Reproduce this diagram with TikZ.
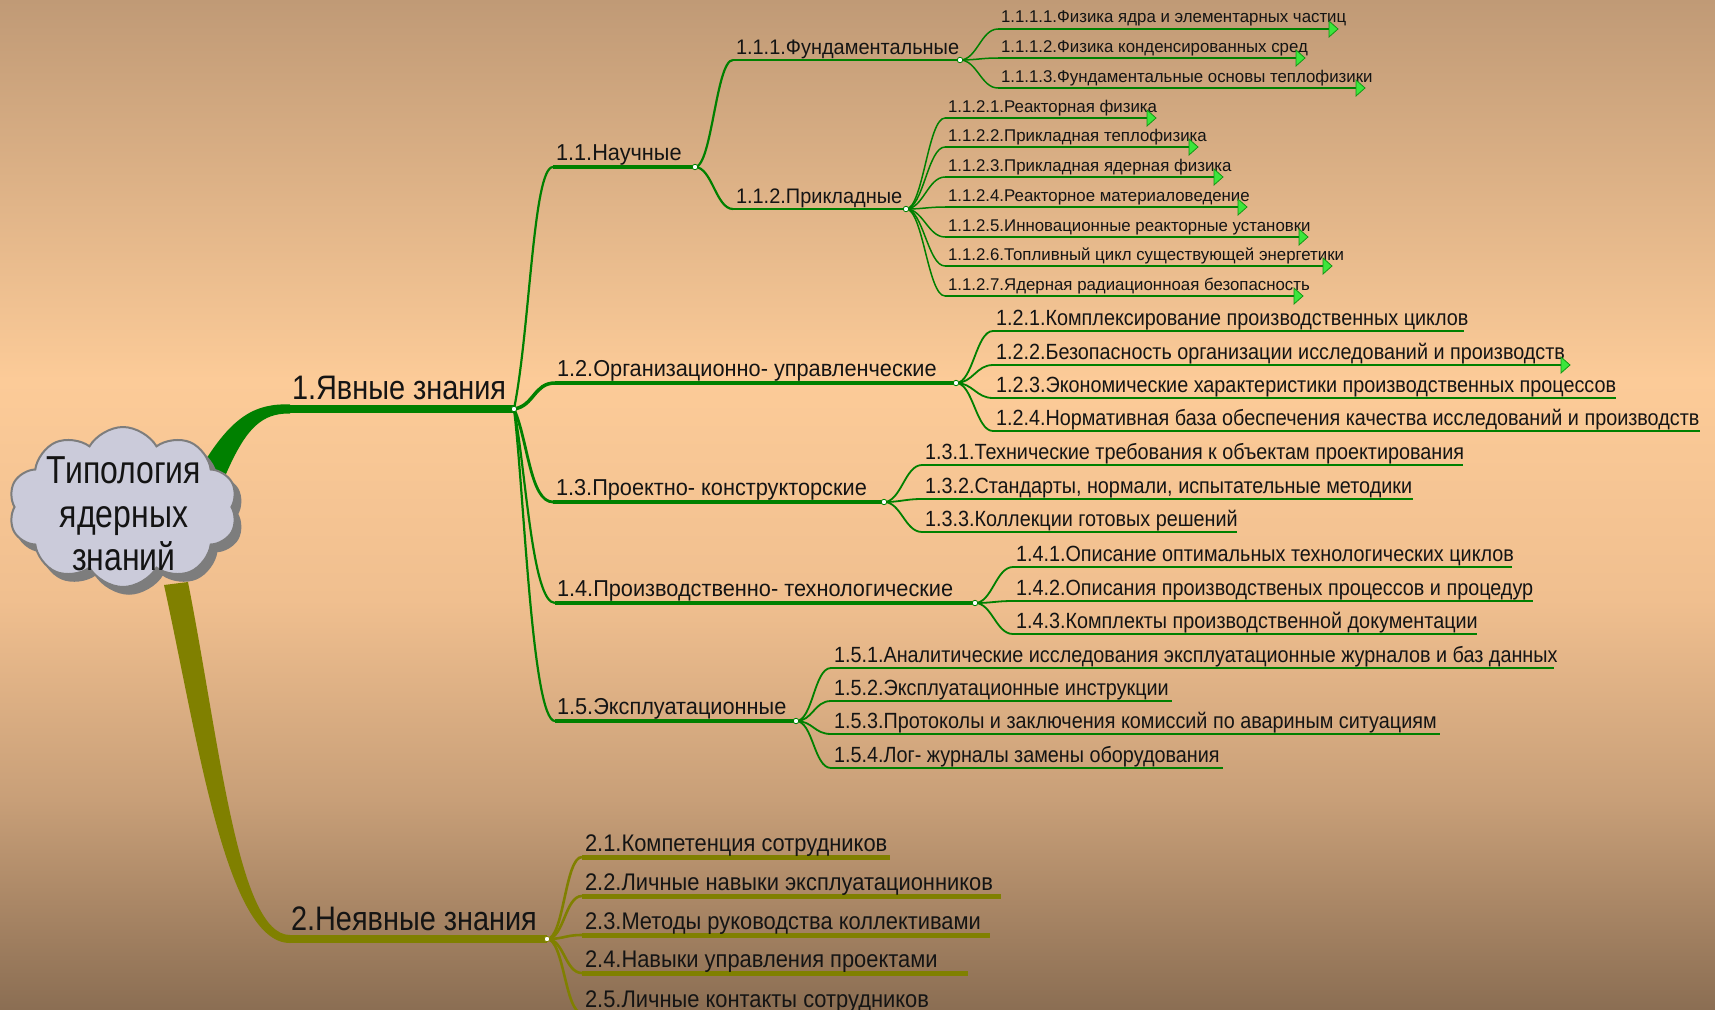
\documentclass[tikz,border=0pt]{standalone}
\usepackage{fontspec}
\setmainfont{Liberation Sans}
\newfontfamily\FamCloud[FakeStretch=0.82]{Liberation Sans}
\newfontfamily\FamA[FakeStretch=0.85]{Liberation Sans}
\newfontfamily\FamB[FakeStretch=0.945]{Liberation Sans}
\newfontfamily\FamBB[FakeStretch=0.95]{Liberation Sans}
\newfontfamily\FamC[FakeStretch=0.90]{Liberation Sans}
\newfontfamily\FamE[FakeStretch=0.912]{Liberation Sans}
\newfontfamily\FamD[FakeStretch=0.99]{Liberation Sans}
\usetikzlibrary{shapes.symbols,calc}
\newcommand\FCloud{\FamCloud\fontsize{39}{43.5}\selectfont}
\newcommand\FOne{\FamA\fontsize{34}{40}\selectfont}
\newcommand\FTwo{\FamB\fontsize{23}{27}\selectfont}
\newcommand\FThrA{\FamBB\fontsize{21}{25}\selectfont}
\newcommand\FThree{\FamC\fontsize{22}{26}\selectfont}
\newcommand\FTw{\FamE\fontsize{24}{28}\selectfont}
\newcommand\FFour{\FamD\fontsize{17}{20}\selectfont}
\definecolor{gr}{RGB}{0,128,0}
\definecolor{ol}{RGB}{128,128,0}
\definecolor{tipg}{RGB}{60,230,60}
\definecolor{tipd}{RGB}{20,150,20}
\definecolor{cloudfill}{RGB}{203,203,218}
\definecolor{cloudline}{RGB}{125,125,125}
\definecolor{bgA}{RGB}{192,154,118}
\definecolor{bgB}{RGB}{252,203,152}
\definecolor{bgC}{RGB}{240,191,143}
\definecolor{bgD}{RGB}{200,159,120}
\definecolor{bgE}{RGB}{139,110,83}
% parent, name, xstart, y, xend, line style, curve style, font, text
\newcommand\kid[9]{%
  \coordinate (#2s) at (#3,#4);
  \coordinate (#2e) at (#5,#4);
  \draw[#7] (#1) .. controls ($(#1)+(17,0)$) and ($(#2s)+(-17,0)$) .. (#2s);
  \draw[#6] (#2s) -- (#2e);
  \node[lbl, font=#8] (#2) at ($(#2s)+(3,-6)$) {#9};
}
\newcommand\tip[1]{\filldraw[tipst] ($(#1)+(-9,-8)$) -- (#1) -- ($(#1)+(-9,8)$) -- cycle;}
\begin{document}
\begin{tikzpicture}[x=1pt,y=-1pt,
  lbl/.style={anchor=base west, inner sep=0pt, outer sep=0pt, text=black!92},
  lone/.style={gr, line width=8},
  ltwo/.style={gr, line width=4.5},
  ctwo/.style={gr, line width=2.2},
  lthr/.style={gr, line width=2.8},
  cthr/.style={gr, line width=1.8},
  lfour/.style={gr, line width=2.3},
  cfour/.style={gr, line width=1.5},
  otwo/.style={ol, line width=5},
  octwo/.style={ol, line width=2.6},
  tipst/.style={fill=tipg, draw=tipd, line width=0.8, line join=miter},
  dotst/.style={circle, fill=white, draw=gr, line width=0.8, inner sep=0pt, minimum size=6pt},
]
\useasboundingbox (0,0) rectangle (1715,1009);
% background
\shade[top color=bgA, bottom color=bgB] (0,0) rectangle (1715,380);
\shade[top color=bgB, bottom color=bgC] (0,379.5) rectangle (1715,600);
\shade[top color=bgC, bottom color=bgD] (0,599.5) rectangle (1715,800);
\shade[top color=bgD, bottom color=bgE] (0,799.5) rectangle (1715,1009);

% junctions
\coordinate (j1) at (514,409);
\coordinate (j2) at (547,939);
\coordinate (j11) at (695,167);
\coordinate (j12) at (956,383);
\coordinate (j13) at (884,502);
\coordinate (j14) at (975,603);
\coordinate (j15) at (796,721);
\coordinate (j111) at (960,60);
\coordinate (j112) at (906,209);

% main thick connectors from cloud
\fill[gr] (203,464) .. controls (232,417) and (255,403) .. (290,404.5)
  -- (290,413.5) .. controls (262,413) and (246,428) .. (226,474) -- cycle;
\fill[ol] (164,585) .. controls (198,740) and (226,943) .. (290,943)
  -- (290,935) .. controls (238,935) and (220,745) .. (188,582) -- cycle;

% level 1 lines and labels
\coordinate (n1s) at (290,409);
\draw[lone] (n1s) -- (j1);
\node[lbl, font=\FOne] (n1) at (292,399) {1.Явные знания};
\coordinate (n2s) at (287,939);
\draw[ol, line width=8] (n2s) -- (j2);
\node[lbl, font=\FOne] (n2) at (291,930) {2.Неявные знания};

% level 2 (1.x)
\coordinate (n11s) at (553,167);
\draw[ctwo] (j1) .. controls (530,330) and (533,167) .. (n11s);
\draw[ltwo] (n11s) -- (j11);
\node[lbl, font=\FTwo] (n11) at (556,160) {1.1.Научные};

\coordinate (n12s) at (555,383);
\draw[gr, line width=3.5] (j1) .. controls (534,406) and (534,383) .. (n12s);
\draw[ltwo] (n12s) -- (j12);
\node[lbl, font=\FTwo] (n12) at (557,376) {1.2.Организационно- управленческие};

\coordinate (n13s) at (553,502);
\draw[gr, line width=2.8] (j1) .. controls (528,440) and (530,502) .. (n13s);
\draw[ltwo] (n13s) -- (j13);
\node[lbl, font=\FTwo] (n13) at (556,495) {1.3.Проектно- конструкторские};

\coordinate (n14s) at (555,603);
\draw[ctwo] (j1) .. controls (526,470) and (532,603) .. (n14s);
\draw[ltwo] (n14s) -- (j14);
\node[lbl, font=\FTwo] (n14) at (557,596) {1.4.Производственно- технологические};

\coordinate (n15s) at (555,721);
\draw[ctwo] (j1) .. controls (524,490) and (532,721) .. (n15s);
\draw[ltwo] (n15s) -- (j15);
\node[lbl, font=\FTwo] (n15) at (557,714) {1.5.Эксплуатационные};

% level 3 under 1.1
\kid{j11}{n111}{733}{60}{960}{lthr}{ctwo}{\FThrA}{1.1.1.Фундаментальные}
\kid{j11}{n112}{733}{209}{906}{lthr}{ctwo}{\FThrA}{1.1.2.Прикладные}

% level 4 under 1.1.1
\kid{j111}{n1111}{998}{29}{1338}{lfour}{cfour}{\FFour}{1.1.1.1.Физика ядра и элементарных частиц}
\kid{j111}{n1112}{998}{58}{1305}{lfour}{cfour}{\FFour}{1.1.1.2.Физика конденсированных сред}
\kid{j111}{n1113}{998}{88}{1365}{lfour}{cfour}{\FFour}{1.1.1.3.Фундаментальные основы теплофизики}
% level 4 under 1.1.2
\kid{j112}{n1121}{945}{118}{1156}{lfour}{cfour}{\FFour}{1.1.2.1.Реакторная физика}
\kid{j112}{n1122}{945}{147}{1198}{lfour}{cfour}{\FFour}{1.1.2.2.Прикладная теплофизика}
\kid{j112}{n1123}{945}{177}{1223}{lfour}{cfour}{\FFour}{1.1.2.3.Прикладная ядерная физика}
\kid{j112}{n1124}{945}{207}{1247}{lfour}{cfour}{\FFour}{1.1.2.4.Реакторное материаловедение}
\kid{j112}{n1125}{945}{237}{1308}{lfour}{cfour}{\FFour}{1.1.2.5.Инновационные реакторные установки}
\kid{j112}{n1126}{945}{266}{1332}{lfour}{cfour}{\FFour}{1.1.2.6.Топливный цикл существующей энергетики}
\kid{j112}{n1127}{945}{296}{1303}{lfour}{cfour}{\FFour}{1.1.2.7.Ядерная радиационноая безопасность}

% level 3 under 1.2
\kid{j12}{n121}{993}{331}{1464}{lthr}{cthr}{\FThree}{1.2.1.Комплексирование производственных циклов}
\kid{j12}{n122}{993}{365}{1570}{lthr}{cthr}{\FThree}{1.2.2.Безопасность организации исследований и производств}
\kid{j12}{n123}{993}{398}{1616}{lthr}{cthr}{\FThree}{1.2.3.Экономические характеристики производственных процессов}
\kid{j12}{n124}{993}{431}{1700}{lthr}{cthr}{\FThree}{1.2.4.Нормативная база обеспечения качества исследований и производств}
% level 3 under 1.3
\kid{j13}{n131}{922}{465}{1463}{lthr}{cthr}{\FThree}{1.3.1.Технические требования к объектам проектирования}
\kid{j13}{n132}{922}{499}{1413}{lthr}{cthr}{\FThree}{1.3.2.Стандарты, нормали, испытательные методики}
\kid{j13}{n133}{922}{532}{1237}{lthr}{cthr}{\FThree}{1.3.3.Коллекции готовых решений}
% level 3 under 1.4
\kid{j14}{n141}{1013}{567}{1512}{lthr}{cthr}{\FThree}{1.4.1.Описание оптимальных технологических циклов}
\kid{j14}{n142}{1013}{601}{1533}{lthr}{cthr}{\FThree}{1.4.2.Описания производственых процессов и процедур}
\kid{j14}{n143}{1013}{634}{1477}{lthr}{cthr}{\FThree}{1.4.3.Комплекты производственной документации}
% level 3 under 1.5
\kid{j15}{n151}{831}{668}{1554}{lthr}{cthr}{\FThree}{1.5.1.Аналитические исследования эксплуатационные журналов и баз данных}
\kid{j15}{n152}{831}{701}{1172}{lthr}{cthr}{\FThree}{1.5.2.Эксплуатационные инструкции}
\kid{j15}{n153}{831}{734}{1440}{lthr}{cthr}{\FThree}{1.5.3.Протоколы и заключения комиссий по авариным ситуациям}
\kid{j15}{n154}{831}{768}{1223}{lthr}{cthr}{\FThree}{1.5.4.Лог- журналы замены оборудования}
% level 2 under 2
\kid{j2}{n21}{582}{857}{890}{otwo}{octwo}{\FTw}{2.1.Компетенция сотрудников}
\kid{j2}{n22}{582}{896}{1001}{otwo}{octwo}{\FTw}{2.2.Личные навыки эксплуатационников}
\kid{j2}{n23}{582}{935}{990}{otwo}{octwo}{\FTw}{2.3.Методы руководства коллективами}
\kid{j2}{n24}{582}{973}{968}{otwo}{octwo}{\FTw}{2.4.Навыки управления проектами}
\kid{j2}{n25}{582}{1013}{940}{otwo}{octwo}{\FTw}{2.5.Личные контакты сотрудников}

% arrow tips
\tip{n1111e}\tip{n1112e}\tip{n1113e}
\tip{n1121e}\tip{n1122e}\tip{n1123e}\tip{n1124e}\tip{n1125e}\tip{n1126e}\tip{n1127e}
\tip{n122e}

% junction dots
\foreach \j in {j1,j11,j12,j13,j14,j15,j111,j112}{\node[dotst, minimum size=5.5pt] (d\j) at (\j) {};}
\node[circle, fill=white, draw=ol, line width=0.8, inner sep=0pt, minimum size=5.5pt] (dj2) at (j2) {};

% cloud
\node[cloud, cloud puffs=10, cloud puff arc=120, aspect=1.45, minimum width=229pt, minimum height=160pt,
  fill=cloudline, draw=cloudline, line width=1.5] (cloudshadow) at (129,514) {};
\node[cloud, cloud puffs=10, cloud puff arc=120, aspect=1.45, minimum width=229pt, minimum height=160pt,
  fill=cloudfill, draw=cloudline, line width=2] (cloud) at (123,507) {};
\node[align=center, font=\FCloud, inner sep=0pt, text=black!92] (title) at (124,514) {Типология\\ядерных\\знаний};
\end{tikzpicture}
\end{document}
